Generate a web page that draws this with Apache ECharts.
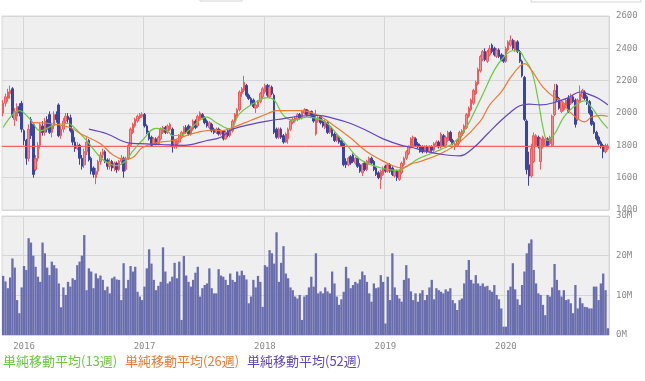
<!DOCTYPE html>
<html><head><meta charset="utf-8">
<script src="https://cdn.jsdelivr.net/npm/echarts/dist/echarts.min.js"></script>
<style>html,body{margin:0;padding:0;background:#fff}#c{width:645px;height:381px}</style>
</head><body><div id="c"></div><script>
// ---- data ----
const startDate = '2015-11-02';
const weekCount = 262;
const yearStarts = [9, 61, 113, 165, 217];
const yearLabels = ['2016', '2017', '2018', '2019', '2020'];
const priceTicks = [1400, 1600, 1800, 2000, 2200, 2400, 2600];
const volumeTicks = [0, 10, 20, 30];

// weekly candles: [open, close, low, high]
const ohlc = [
[2000,2060,1980,2080],[2060,2100,2040,2120],[2090,2130,2070,2150],[2120,2140,2090,2170],[2150,1990,1970,2160],
[1960,2010,1920,2030],[1980,2040,1950,2060],[2040,2000,1980,2060],[2060,1900,1880,2075],[1890,1830,1800,1900],
[1830,1720,1680,1840],[1720,1900,1700,1930],[1960,1860,1840,1975],[1930,1620,1600,1940],[1650,1720,1640,1740],
[1720,1800,1700,1820],[1800,1930,1780,1940],[1920,1880,1860,1950],[1880,1950,1860,1970],[1960,1900,1880,1980],
[1990,1880,1870,2010],[1880,1920,1850,1940],[1920,1990,1900,2010],[1990,1960,1940,2010],[2050,1860,1850,2060],
[1860,1900,1840,1920],[1900,1950,1880,1970],[1950,1980,1930,2000],[1980,1960,1940,2000],[1970,1890,1880,1990],
[1890,1820,1800,1900],[1820,1780,1760,1850],[1780,1800,1770,1820],[1800,1720,1680,1810],[1720,1670,1650,1740],
[1680,1760,1660,1780],[1760,1820,1740,1850],[1830,1710,1700,1840],[1720,1640,1620,1730],[1660,1620,1600,1670],
[1600,1640,1560,1660],[1640,1700,1620,1710],[1700,1740,1680,1760],[1740,1760,1720,1780],[1760,1700,1690,1770],
[1710,1670,1650,1720],[1670,1700,1650,1720],[1700,1660,1640,1710],[1660,1690,1640,1700],[1690,1650,1630,1700],
[1650,1700,1640,1710],[1700,1720,1680,1740],[1720,1640,1600,1730],[1650,1720,1640,1730],[1720,1800,1710,1810],
[1800,1900,1790,1910],[1880,1930,1870,1940],[1920,1960,1910,1970],[1950,1980,1940,1990],[1970,1990,1960,2000],
[1980,1990,1970,2005],[1990,1920,1910,2000],[1920,1880,1870,1930],[1880,1840,1830,1890],[1850,1800,1790,1860],
[1810,1840,1800,1850],[1840,1810,1800,1850],[1810,1850,1800,1860],[1840,1900,1830,1910],[1880,1910,1870,1920],
[1910,1880,1870,1920],[1880,1920,1870,1930],[1900,1930,1890,1940],[1900,1790,1755,1910],[1790,1830,1780,1840],
[1790,1830,1780,1840],[1820,1860,1810,1870],[1850,1880,1840,1890],[1870,1910,1860,1920],[1910,1880,1870,1925],
[1920,1870,1860,1930],[1870,1910,1860,1920],[1900,1950,1890,1960],[1950,1910,1900,1960],[1920,1980,1910,1990],
[1960,2000,1950,2010],[1990,1970,1960,2000],[1970,1940,1930,1980],[1950,1920,1910,1960],[1910,1940,1900,1950],
[1930,1890,1880,1940],[1900,1880,1870,1910],[1880,1900,1870,1910],[1900,1870,1860,1910],[1870,1890,1860,1900],
[1890,1840,1830,1895],[1840,1880,1835,1890],[1890,1860,1850,1895],[1860,1890,1850,1900],[1890,1950,1880,1960],
[1950,1990,1940,2000],[1980,2020,1970,2030],[2020,2130,2010,2140],[2120,2150,2100,2160],[2140,2190,2130,2230],
[2170,2110,2100,2180],[2110,2090,2080,2120],[2090,2060,2050,2100],[2080,2040,2030,2090],[2030,2050,2000,2060],
[2040,2070,2030,2080],[2070,2120,2060,2130],[2100,2150,2090,2160],[2130,2170,2120,2180],[2170,2110,2100,2180],
[2100,2160,2090,2175],[2160,2120,2110,2170],[2110,1880,1870,2120],[1900,1850,1840,1910],[1850,1900,1840,1910],
[1900,1850,1840,1910],[1860,1820,1810,1870],[1820,1870,1815,1880],[1840,1900,1810,1910],[1900,1950,1890,1960],
[1940,1960,1930,1970],[1950,1970,1940,1980],[1960,1990,1950,2000],[1990,1970,1960,2000],[1970,2010,1960,2020],
[2000,2020,1990,2030],[2020,1990,1980,2025],[1990,2010,1980,2020],[2010,1980,1970,2015],[1990,1950,1940,2000],
[1870,1960,1860,2020],[1950,1970,1940,1980],[1980,1940,1930,1985],[1950,1920,1910,1960],[1910,1950,1900,1960],
[1940,1880,1870,1950],[1880,1910,1870,1920],[1900,1860,1850,1910],[1870,1830,1820,1880],[1830,1860,1820,1870],
[1850,1820,1810,1860],[1830,1800,1790,1840],[1810,1680,1670,1815],[1700,1680,1660,1720],[1680,1720,1670,1730],
[1730,1690,1680,1740],[1740,1700,1690,1750],[1690,1720,1680,1730],[1720,1670,1660,1730],[1680,1640,1630,1690],
[1630,1680,1610,1690],[1690,1650,1640,1700],[1650,1700,1640,1710],[1690,1720,1680,1730],[1720,1690,1680,1730],
[1700,1650,1640,1710],[1660,1620,1610,1670],[1630,1600,1590,1640],[1590,1640,1530,1650],[1620,1660,1610,1670],
[1670,1640,1630,1680],[1640,1680,1630,1690],[1680,1640,1630,1690],[1660,1620,1610,1670],[1610,1640,1600,1650],
[1640,1600,1580,1650],[1590,1640,1580,1650],[1630,1690,1620,1700],[1680,1720,1670,1730],[1720,1760,1710,1770],
[1750,1790,1740,1800],[1790,1840,1780,1850],[1800,1850,1790,1860],[1840,1800,1790,1850],[1810,1790,1780,1820],
[1800,1760,1755,1810],[1790,1760,1750,1800],[1760,1790,1755,1800],[1790,1760,1750,1800],[1760,1790,1750,1800],
[1790,1770,1760,1800],[1770,1810,1760,1820],[1800,1820,1790,1830],[1820,1790,1780,1830],[1790,1870,1780,1880],
[1860,1800,1790,1870],[1800,1850,1790,1860],[1830,1880,1820,1890],[1880,1830,1820,1890],[1830,1810,1800,1840],
[1790,1810,1770,1820],[1800,1830,1790,1840],[1820,1880,1810,1890],[1860,1890,1850,1900],[1880,1920,1870,1930],
[1910,1990,1900,2000],[1980,2030,1970,2040],[2020,2080,2010,2090],[2060,2140,2050,2150],[2120,2190,2110,2200],
[2180,2270,2170,2280],[2260,2350,2250,2360],[2330,2380,2320,2390],[2380,2330,2320,2400],[2320,2380,2310,2390],
[2360,2400,2350,2420],[2420,2380,2370,2430],[2400,2360,2350,2410],[2350,2390,2340,2400],[2390,2350,2340,2400],
[2360,2330,2320,2370],[2350,2320,2310,2360],[2320,2400,2310,2410],[2390,2440,2380,2450],[2420,2450,2410,2480],
[2450,2400,2390,2460],[2390,2440,2380,2450],[2440,2380,2370,2450],[2380,2320,2310,2390],[2320,2230,2220,2330],
[2220,1960,1950,2230],[1950,1650,1620,1960],[1680,1610,1550,1760],[1610,1780,1600,1810],[1700,1860,1690,1880],
[1800,1860,1790,1870],[1850,1790,1780,1860],[1700,1840,1650,1850],[1790,1850,1780,1860],[1800,1840,1790,1850],
[1840,1800,1790,1850],[1810,1850,1800,1860],[1800,1980,1790,1990],[1990,2140,1980,2180],[2170,2080,2070,2180],
[2090,2030,2020,2100],[2010,2070,2000,2080],[2020,2060,2010,2070],[2040,2080,2030,2090],[2090,2010,2000,2110],
[2060,2100,2050,2120],[2100,2070,2060,2110],[2080,1930,1910,2090],[1960,2080,1950,2090],[2070,2120,2060,2170],
[2100,2140,2090,2150],[2130,2090,2080,2140],[2100,2060,2050,2110],[2070,2000,1990,2080],[2010,1930,1920,2020],
[1940,1880,1870,1950],[1880,1840,1830,1890],[1850,1810,1800,1860],[1820,1790,1780,1830],[1800,1760,1720,1810],
[1760,1800,1750,1810],[1780,1795,1770,1810]
];

// weekly volume, millions of shares
const volume = [
14.9,13.5,11.8,14.5,19.3,17,8.8,5.5,12,17.4,
16.4,24.4,23.3,20,17.2,14.7,13.4,23.3,20.6,17,
15.1,18.5,17.6,16.8,13,7,12,10.1,13.4,12.2,
14.3,13.9,17.6,18.5,20,25.2,11.3,16.8,16,11.8,
15.5,14.3,15,13.9,11.3,12.2,10.5,14.3,14.7,14,
13.9,8.8,18.1,11.8,13.9,17.4,16,17.2,10.9,9.7,
8.8,12.2,16.8,21.6,18,13.9,11.3,12.4,13.4,22.1,
16,13,13.5,14.7,18.2,14.3,18.5,3.8,19.9,15,
13.4,12.2,13.9,15.7,17.2,9.7,11.8,12.6,13,16.8,
11.8,10.5,10.5,16.6,15,14.7,13.9,12.6,15.5,13.9,
13.4,16,15,16.2,15.1,14,8,9.7,13.9,12,
14.9,13.4,7.1,17.6,17.2,21.4,20.6,18,25.9,13.4,
18.2,22.4,15.5,14.3,12,11.3,9.7,9.2,10.1,3.8,
9.7,10.1,12,14.7,12.2,20.6,10.5,11,10.5,12,
11,10.5,16,13,9.7,7.6,9,10.9,17.2,14.3,
11.8,12.6,13.4,13,14,16,15.1,13.4,10.5,8.4,
13,11.8,12,15.1,13.4,2.9,14.7,8.8,20.6,12,
10.1,9.2,8.4,13.9,17.6,14.3,11,8.8,10.5,8.4,
10.5,11.3,8.8,10.1,12,13.9,9,11.8,11.3,10.9,
10.5,11.5,11,11.8,8.8,8,6.3,8.8,9.2,13,
16.4,18.9,13.9,13,15.1,13,12.4,13,12.2,12.4,
11.3,10.9,12.6,10.1,9,6.7,2.1,2.1,11.3,12.2,
18.1,11.5,9,7.6,12.6,16,20.6,23.1,24.1,16.4,
13,10.5,10.1,7.6,5,10.1,9.7,12,17.9,13.9,
11.3,9.7,11.3,8.8,9,8,5.5,12.6,6.7,9.4,
8,7.1,7,6.7,6.7,12.2,12.2,8.8,13,15.5,
11.3,1.7
];

// moving averages: [week index, value]
const ma13 = [[0,1910],[7,2015],[12,1955],[16,1890],[22,1925],[28,1935],[30,1920],[36,1830],[42,1725],[46,1685],[49,1675],[53,1705],[56,1765],[60,1830],[66,1905],[71,1890],[73,1860],[78,1870],[82,1920],[88,1975],[92,1940],[98,1900],[102,1995],[110,2075],[114,2095],[117,2080],[121,1985],[125,1955],[131,1975],[136,1965],[140,1935],[144,1870],[149,1790],[153,1725],[157,1690],[162,1665],[166,1650],[170,1645],[175,1675],[179,1715],[184,1745],[189,1775],[194,1810],[199,1890],[203,1995],[207,2115],[212,2265],[216,2345],[220,2385],[223,2380],[225,2335],[228,2265],[231,2075],[233,1910],[235,1830],[238,1870],[242,1975],[246,2035],[251,2075],[254,2035],[258,1955],[261,1905]];
const ma26 = [[12,1940],[20,1935],[29,1910],[33,1875],[42,1810],[47,1745],[52,1715],[56,1725],[60,1785],[66,1815],[73,1830],[79,1860],[85,1885],[91,1895],[94,1890],[99,1910],[107,1955],[114,1995],[118,2015],[128,2015],[136,1985],[143,1920],[150,1845],[157,1760],[163,1710],[168,1675],[172,1660],[176,1685],[180,1700],[189,1750],[197,1820],[206,1950],[210,2050],[215,2130],[219,2220],[223,2290],[225,2305],[228,2265],[233,2160],[238,2095],[241,2075],[244,2015],[248,1965],[251,1945],[254,1975],[258,1985],[261,1980]];
const ma52 = [[37,1900],[45,1870],[54,1815],[59,1810],[68,1805],[78,1800],[88,1830],[94,1850],[99,1900],[107,1930],[114,1950],[121,1965],[128,1980],[136,1985],[143,1965],[150,1935],[157,1890],[164,1840],[172,1800],[177,1785],[182,1765],[189,1745],[197,1735],[203,1785],[209,1870],[215,1955],[219,2005],[223,2045],[227,2055],[232,2050],[238,2065],[244,2095],[249,2130],[252,2120],[257,2090],[261,2050]];

const legendNames = ['単純移動平均(13週)', '単純移動平均(26週)', '単純移動平均(52週)'];

// ---- build ----
const weeks = [];
{
  const t0 = Date.parse(startDate + 'T00:00:00Z');
  for (let i = 0; i < weekCount; i++) weeks.push(new Date(t0 + i * 7 * 86400000).toISOString().slice(0, 10));
}
const lastClose = ohlc[ohlc.length - 1][1];
const isYear = (i) => yearStarts.indexOf(i) >= 0;
const axisFont = { fontFamily: 'DejaVu Sans Mono', fontSize: 9, color: '#8a8a8a' };
const colors = ['#6cc93f', '#ef7a34', '#6246c0'];
const gridLine = { color: '#d6d6d6', width: 1 };

const chart = echarts.init(document.getElementById('c'), null, { renderer: 'canvas' });
chart.setOption({
  animation: false,
  backgroundColor: '#ffffff',
  grid: [
    { left: 2, right: 36, top: 16, height: 194, show: true, backgroundColor: '#efefef', borderColor: '#d8d8d8', borderWidth: 1 },
    { left: 2, right: 36, top: 216, height: 119, show: true, backgroundColor: '#efefef', borderColor: '#d8d8d8', borderWidth: 1 }
  ],
  xAxis: [
    { type: 'category', gridIndex: 0, data: weeks, boundaryGap: true,
      axisLine: { show: false }, axisTick: { show: false }, axisLabel: { show: false },
      splitLine: { show: true, interval: (i) => isYear(i), lineStyle: gridLine } },
    { type: 'category', gridIndex: 1, data: weeks, boundaryGap: true,
      axisLine: { show: false }, axisTick: { show: false },
      axisLabel: Object.assign({ show: true, interval: (i) => isYear(i), margin: 7,
        formatter: (v, i) => yearLabels[yearStarts.indexOf(i)] || '' }, axisFont),
      splitLine: { show: true, interval: (i) => isYear(i), lineStyle: gridLine } }
  ],
  yAxis: [
    { type: 'value', gridIndex: 0, position: 'right', min: priceTicks[0], max: priceTicks[priceTicks.length - 1], interval: 200,
      axisLine: { show: false }, axisTick: { show: false },
      axisLabel: Object.assign({ margin: 7, formatter: (v) => String(v) }, axisFont), splitLine: { lineStyle: gridLine } },
    { type: 'value', gridIndex: 1, position: 'right', min: volumeTicks[0], max: volumeTicks[volumeTicks.length - 1], interval: 10,
      axisLine: { show: false }, axisTick: { show: false },
      axisLabel: Object.assign({ margin: 7, formatter: (v) => v + 'M' }, axisFont), splitLine: { lineStyle: gridLine } }
  ],
  series: [
    { type: 'candlestick', xAxisIndex: 0, yAxisIndex: 0, data: ohlc, barWidth: '88%',
      itemStyle: { color: '#f98a8a', color0: '#3a44a2', borderColor: '#f25a5a', borderColor0: '#3a44a2', borderWidth: 1 },
      markLine: { silent: true, symbol: 'none', label: { show: false }, animation: false,
        lineStyle: { color: '#f06464', width: 1, type: 'solid' }, data: [{ yAxis: lastClose }] } },
    { name: legendNames[0], type: 'line', xAxisIndex: 0, yAxisIndex: 0, data: ma13, smooth: 0.4, showSymbol: false, z: 5,
      lineStyle: { color: colors[0], width: 1.2 } },
    { name: legendNames[1], type: 'line', xAxisIndex: 0, yAxisIndex: 0, data: ma26, smooth: 0.4, showSymbol: false, z: 5,
      lineStyle: { color: colors[1], width: 1.2 } },
    { name: legendNames[2], type: 'line', xAxisIndex: 0, yAxisIndex: 0, data: ma52, smooth: 0.4, showSymbol: false, z: 5,
      lineStyle: { color: colors[2], width: 1.2 } },
    { type: 'bar', xAxisIndex: 1, yAxisIndex: 1, data: volume, barCategoryGap: '0%',
      itemStyle: { color: '#6a6eae' } }
  ],
  graphic: [
    { type: 'rect', shape: { x: 200, y: -10, width: 42, height: 11 }, style: { fill: '#fff', stroke: '#d4d4d4' } },
    { type: 'rect', shape: { x: 531, y: -10, width: 110, height: 12 }, style: { fill: '#fff', stroke: '#d4d4d4' } },
    { type: 'text', left: 3, top: 355, style: { text: legendNames[0], fill: colors[0], font: '13px "Noto Sans CJK JP"' } },
    { type: 'text', left: 125, top: 355, style: { text: legendNames[1], fill: colors[1], font: '13px "Noto Sans CJK JP"' } },
    { type: 'text', left: 247, top: 355, style: { text: legendNames[2], fill: colors[2], font: '13px "Noto Sans CJK JP"' } }
  ]
});
</script></body></html>
